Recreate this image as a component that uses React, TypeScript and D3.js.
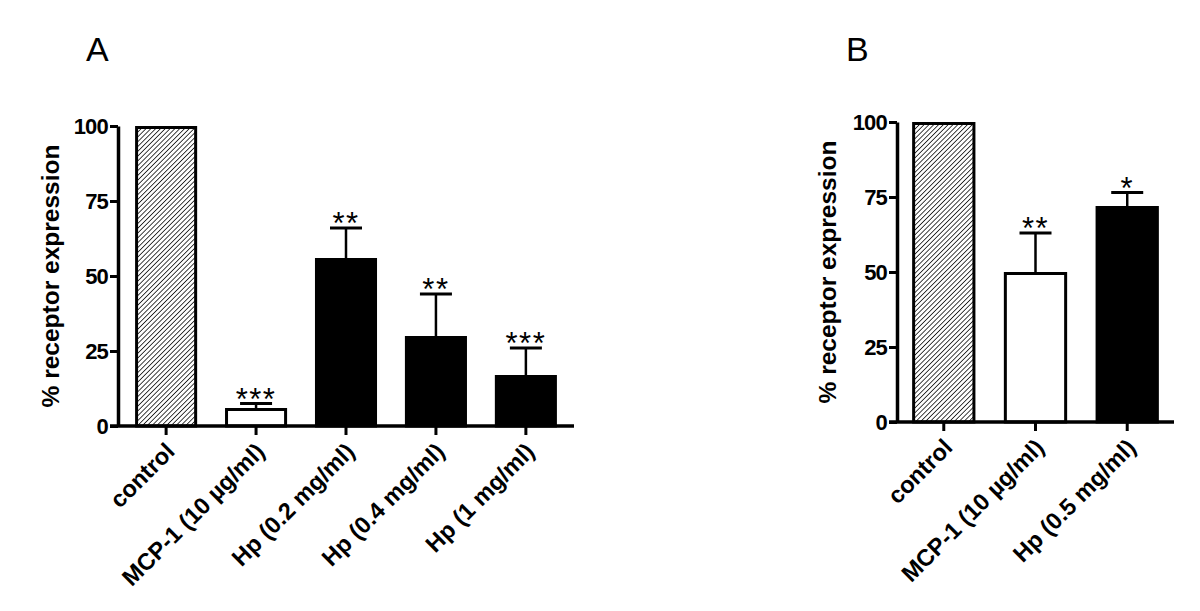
import React, { useEffect, useRef } from 'react';
import * as d3 from 'd3';

// Panel A data
const catsA = ['control', 'MCP-1 (10 µg/ml)', 'Hp (0.2 mg/ml)', 'Hp (0.4 mg/ml)', 'Hp (1 mg/ml)'];
const valsA = [100, 6, 56, 30, 17];
const errA = [0, 1.5, 10, 14, 9];
const sigA = ['', '***', '**', '**', '***'];
const fillA = ['hatch', 'white', 'black', 'black', 'black'];

// Panel B data
const catsB = ['control', 'MCP-1 (10 µg/ml)', 'Hp (0.5 mg/ml)'];
const valsB = [100, 50, 72];
const errB = [0, 13, 4.5];
const sigB = ['', '**', '*'];
const fillB = ['hatch', 'white', 'black'];

const yTicks = [0, 25, 50, 75, 100];
const yLabel = '% receptor expression';
const FONT = '"Liberation Sans", Arial, Helvetica, sans-serif';

type PanelCfg = {
  letter: string;
  letterX: number;
  cats: string[];
  vals: number[];
  errs: number[];
  sigs: string[];
  fills: string[];
  x0: number;
  x1: number;
  yTop: number;
  yBottom: number;
  padOuter: number;
  labelX: number;
};

function drawPanel(g: d3.Selection<SVGGElement, unknown, null, undefined>, c: PanelCfg) {
  const x = d3.scaleBand<string>().domain(c.cats).range([c.x0, c.x1]).paddingInner(0.31).paddingOuter(c.padOuter);
  const y = d3.scaleLinear().domain([0, 100]).range([c.yBottom, c.yTop]);

  g.append('text').attr('x', c.letterX).attr('y', 61).attr('font-family', FONT).attr('font-size', 34)
    .text(c.letter);

  const data = c.cats.map((k, i) => ({ k, v: c.vals[i], e: c.errs[i], s: c.sigs[i], f: c.fills[i] }));
  const bw = x.bandwidth();

  // error bars (upper half only)
  data.filter(d => d.e > 0).forEach(d => {
    const cx = x(d.k)! + bw / 2;
    g.append('line').attr('x1', cx).attr('x2', cx).attr('y1', y(d.v)).attr('y2', y(d.v + d.e))
      .attr('stroke', 'black').attr('stroke-width', 2.5);
    g.append('line').attr('x1', cx - 16).attr('x2', cx + 16).attr('y1', y(d.v + d.e)).attr('y2', y(d.v + d.e))
      .attr('stroke', 'black').attr('stroke-width', 3);
  });

  g.selectAll('rect.bar').data(data).join('rect')
    .attr('class', 'bar')
    .attr('x', d => x(d.k)! + 1.5)
    .attr('y', d => y(d.v) + 1.5)
    .attr('width', bw - 3)
    .attr('height', d => y(0) - y(d.v) - 1.5)
    .attr('fill', d => d.f === 'hatch' ? 'url(#hatch)' : d.f)
    .attr('stroke', 'black')
    .attr('stroke-width', 3);

  // significance stars
  data.filter(d => d.s).forEach(d => {
    g.append('text').attr('x', x(d.k)! + bw / 2).attr('y', y(d.v + d.e) + 6)
      .attr('text-anchor', 'middle').attr('font-family', FONT).attr('font-size', 31)
      .attr('letter-spacing', 1.5).text(d.s);
  });

  // y axis
  const yAxis = g.append('g').attr('transform', `translate(${c.x0},0)`)
    .call(d3.axisLeft(y).tickValues(yTicks).tickSize(8).tickPadding(2).tickSizeOuter(0));
  yAxis.select('.domain').attr('stroke-width', 3.5);
  yAxis.selectAll('.tick line').attr('stroke-width', 3);
  yAxis.selectAll('.tick text').attr('font-family', FONT).attr('font-size', 22).attr('font-weight', 'bold')
    .attr('letter-spacing', -0.8).attr('fill', 'black');

  // x axis
  const xAxis = g.append('g').attr('transform', `translate(0,${c.yBottom})`)
    .call(d3.axisBottom(x).tickSize(9).tickSizeOuter(0).tickPadding(0));
  xAxis.select('.domain').attr('stroke-width', 3.5).attr('d', `M${c.x0 - 8},0H${c.x1}`);
  xAxis.selectAll('.tick line').attr('stroke-width', 3);
  xAxis.selectAll('.tick text')
    .attr('font-family', FONT).attr('font-size', 23.5).attr('font-weight', 'bold').attr('fill', 'black')
    .attr('text-anchor', 'end').attr('dy', 0).attr('y', 0)
    .attr('transform', 'translate(10,27) rotate(-45)');

  // y label
  g.append('text')
    .attr('transform', `translate(${c.labelX},${(c.yTop + c.yBottom) / 2}) rotate(-90)`)
    .attr('text-anchor', 'middle').attr('font-family', FONT).attr('font-size', 24.5).attr('font-weight', 'bold')
    .text(yLabel);
}

export default function App() {
  const ref = useRef<SVGSVGElement | null>(null);

  useEffect(() => {
    if (!ref.current) return;
    const svg = d3.select(ref.current);
    svg.selectAll('*').remove();

    const defs = svg.append('defs');
    const pat = defs.append('pattern').attr('id', 'hatch').attr('patternUnits', 'userSpaceOnUse')
      .attr('width', 3.4).attr('height', 3.4).attr('patternTransform', 'rotate(45)');
    pat.append('rect').attr('width', 3.4).attr('height', 3.4).attr('fill', 'white');
    pat.append('line').attr('x1', 0).attr('y1', 0).attr('x2', 0).attr('y2', 3.4)
      .attr('stroke', 'black').attr('stroke-width', 1.5);

    drawPanel(svg.append('g'), {
      letter: 'A', letterX: 86, cats: catsA, vals: valsA, errs: errA, sigs: sigA, fills: fillA,
      x0: 118, x1: 574, yTop: 126, yBottom: 426, padOuter: 0.19, labelX: 59,
    });
    drawPanel(svg.append('g'), {
      letter: 'B', letterX: 846, cats: catsB, vals: valsB, errs: errB, sigs: sigB, fills: fillB,
      x0: 897, x1: 1174, yTop: 122, yBottom: 422, padOuter: 0.165, labelX: 836,
    });
  }, []);

  return (
    <div style={{ position: 'absolute', left: 0, top: 0, width: 1200, height: 611, background: 'white' }}>
      <svg ref={ref} width={1200} height={611} viewBox="0 0 1200 611" />
    </div>
  );
}
